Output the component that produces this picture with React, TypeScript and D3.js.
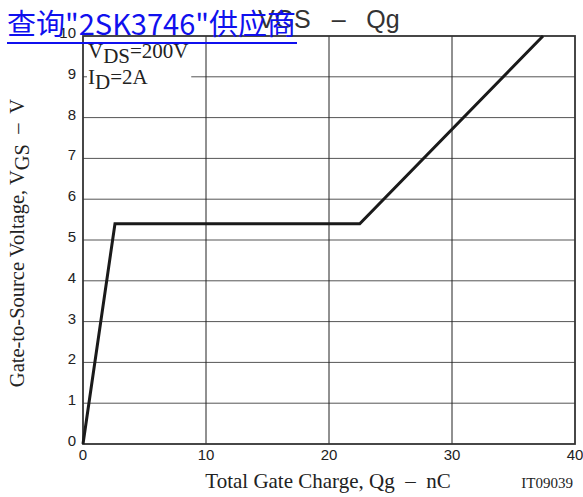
import React, { useEffect, useRef } from 'react'
import * as d3 from 'd3'

// gate charge curve
const qg = [0, 2.6, 22.5, 37.4]
const vgs = [0, 5.4, 5.4, 10]
const xTicks = [0, 10, 20, 30, 40]
const yTicks = [0, 1, 2, 3, 4, 5, 6, 7, 8, 9, 10]

const App: React.FC = () => {
  const ref = useRef<SVGSVGElement>(null)

  useEffect(() => {
    const svg = d3.select(ref.current)
    svg.selectAll('*').remove()

    const left = 83
    const right = 575
    const top = 36
    const bottom = 444
    const sans = '"Liberation Sans", Arial, sans-serif'
    const serif = '"Liberation Serif", "Times New Roman", serif'

    const x = d3.scaleLinear().domain([0, 40]).range([left, right])
    const y = d3.scaleLinear().domain([0, 10]).range([bottom, top])

    /* grid */
    const grid = svg.append('g')
    grid
      .selectAll('.hg')
      .data(yTicks.slice(1, -1))
      .enter()
      .append('line')
      .attr('x1', left)
      .attr('x2', right)
      .attr('y1', (d) => y(d))
      .attr('y2', (d) => y(d))
      .attr('stroke', '#555')
      .attr('stroke-width', 1)
    grid
      .selectAll('.vg')
      .data(xTicks.slice(1, -1))
      .enter()
      .append('line')
      .attr('x1', (d) => x(d))
      .attr('x2', (d) => x(d))
      .attr('y1', top)
      .attr('y2', bottom)
      .attr('stroke', '#222')
      .attr('stroke-width', 1)

    // white box behind the condition text
    svg
      .append('rect')
      .attr('x', left + 1)
      .attr('y', top + 1)
      .attr('width', x(8.8) - left - 1)
      .attr('height', y(8.6) - top - 1)
      .attr('fill', '#fff')
    svg
      .append('line')
      .attr('x1', left)
      .attr('x2', left + 4)
      .attr('y1', y(9))
      .attr('y2', y(9))
      .attr('stroke', '#555')

    /* frame */
    svg
      .append('rect')
      .attr('x', left)
      .attr('y', top)
      .attr('width', right - left)
      .attr('height', bottom - top)
      .attr('fill', 'none')
      .attr('stroke', '#333')
      .attr('stroke-width', 1.8)

    /* curve */
    const line = d3
      .line<number>()
      .x((d) => x(d))
      .y((d, i) => y(vgs[i]))
    svg
      .append('path')
      .attr('d', line(qg))
      .attr('fill', 'none')
      .attr('stroke', '#1a1a1a')
      .attr('stroke-width', 3)
      .attr('stroke-linejoin', 'miter')

    /* tick labels */
    svg
      .append('g')
      .selectAll('text')
      .data(xTicks)
      .enter()
      .append('text')
      .attr('x', (d) => x(d))
      .attr('y', bottom + 16)
      .attr('text-anchor', 'middle')
      .style('font-family', sans)
      .style('font-size', '15px')
      .attr('fill', '#222')
      .text((d) => d)
    svg
      .append('g')
      .selectAll('text')
      .data(yTicks)
      .enter()
      .append('text')
      .attr('x', left - 7)
      .attr('y', (d) => y(d) - 2)
      .attr('text-anchor', 'end')
      .attr('dominant-baseline', 'middle')
      .style('font-family', sans)
      .style('font-size', '15px')
      .attr('fill', '#222')
      .text((d) => d)

    /* conditions */
    const c1 = svg
      .append('text')
      .attr('x', left + 5)
      .attr('y', 58)
      .style('font-family', serif)
      .style('font-size', '21px')
      .attr('fill', '#222')
    c1.append('tspan').text('V')
    c1.append('tspan').attr('dy', 5).text('DS')
    c1.append('tspan').attr('dy', -5).text('=200V')
    const c2 = svg
      .append('text')
      .attr('x', left + 5)
      .attr('y', 84)
      .style('font-family', serif)
      .style('font-size', '21px')
      .attr('fill', '#222')
    c2.append('tspan').text('I')
    c2.append('tspan').attr('dy', 5).text('D')
    c2.append('tspan').attr('dy', -5).text('=2A')

    /* axis titles */
    const yl = svg
      .append('text')
      .attr('transform', `translate(24, ${(top + bottom) / 2 + 3}) rotate(-90)`)
      .attr('text-anchor', 'middle')
      .style('font-family', serif)
      .style('font-size', '20.5px')
      .style('white-space', 'pre')
      .attr('fill', '#222')
    yl.append('tspan').text('Gate-to-Source Voltage, V')
    yl.append('tspan').attr('dy', 5).text('GS')
    yl.append('tspan').attr('dy', -5).text('  \u2013  V')

    svg
      .append('text')
      .attr('x', 328)
      .attr('y', 488)
      .attr('text-anchor', 'middle')
      .style('font-family', serif)
      .style('font-size', '21px')
      .style('white-space', 'pre')
      .attr('fill', '#222')
      .text('Total Gate Charge, Qg  \u2013  nC')

    svg
      .append('text')
      .attr('x', 573)
      .attr('y', 488)
      .attr('text-anchor', 'end')
      .style('font-family', serif)
      .style('font-size', '15px')
      .attr('fill', '#222')
      .text('IT09039')

    /* title */
    svg
      .append('text')
      .attr('x', 258)
      .attr('y', 28)
      .style('font-family', sans)
      .style('font-size', '25px')
      .style('white-space', 'pre')
      .attr('fill', '#333')
      .text('VGS   \u2013   Qg')

    /* link overlay */
    svg
      .append('text')
      .attr('x', 7)
      .attr('y', 35)
      .style('font-family', '"Noto Sans CJK SC", sans-serif')
      .style('font-size', '29px')
      .attr('fill', '#1010ee')
      .text('查询"2SK3746"供应商')
    svg
      .append('line')
      .attr('x1', 7)
      .attr('x2', 297)
      .attr('y1', 43)
      .attr('y2', 43)
      .attr('stroke', '#1010ee')
      .attr('stroke-width', 2)
  }, [])

  return (
    <svg
      ref={ref}
      width={583}
      height={497}
      style={{ position: 'absolute', left: 0, top: 0, background: '#fff' }}
    />
  )
}

export default App
